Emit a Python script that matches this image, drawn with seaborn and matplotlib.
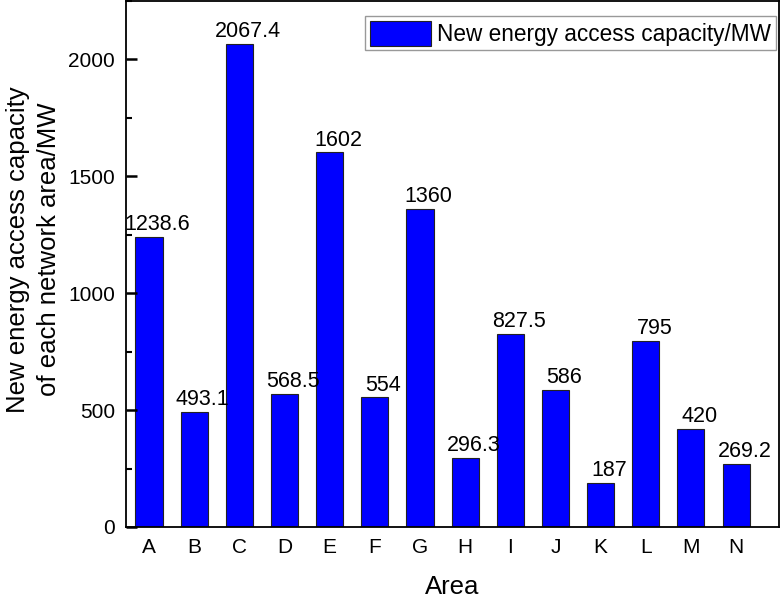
import matplotlib
matplotlib.use('Agg')
import matplotlib.pyplot as plt
import seaborn as sns
from matplotlib.ticker import MultipleLocator

# data
areas = ['A', 'B', 'C', 'D', 'E', 'F', 'G', 'H', 'I', 'J', 'K', 'L', 'M', 'N']
capacity = [1238.6, 493.1, 2067.4, 568.5, 1602, 554, 1360, 296.3, 827.5, 586, 187, 795, 420, 269.2]
value_labels = ['1238.6', '493.1', '2067.4', '568.5', '1602', '554', '1360',
                '296.3', '827.5', '586', '187', '795', '420', '269.2']
legend_label = 'New energy access capacity/MW'
x_title = 'Area'
y_title = 'New energy access capacity\nof each network area/MW'

plt.rcParams['font.family'] = ['Liberation Sans', 'DejaVu Sans']

fig = plt.figure(figsize=(7.82, 5.98), dpi=100)
ax = fig.add_axes([126 / 782, 71 / 598, 653 / 782, 526 / 598])

sns.barplot(x=areas, y=capacity, color='#0000ff', saturation=1, width=0.6,
            edgecolor='#222222', linewidth=0.8, ax=ax)

# value labels sit a little right of each bar centre, as in the original
for i, (v, txt) in enumerate(zip(capacity, value_labels)):
    ax.annotate(txt, xy=(i, v), xytext=(6.1, 5), textcoords='offset points',
                ha='center', va='baseline', fontsize=15.5, color='black')

ax.set_xlim(-0.51, 13.95)
ax.set_ylim(0, 2250)
ax.yaxis.set_major_locator(MultipleLocator(500))
ax.yaxis.set_minor_locator(MultipleLocator(250))

ax.tick_params(axis='y', which='major', direction='in', length=8, width=1.8,
               labelsize=15, pad=8, left=True, right=False, color='#000000')
ax.tick_params(axis='y', which='minor', direction='in', length=4, width=1.5,
               left=True, right=False, color='#000000')
ax.tick_params(axis='x', which='both', length=0, labelsize=15, pad=8)

for sp in ax.spines.values():
    sp.set_color('black')
    sp.set_linewidth(1.3)

ax.set_xlabel(x_title, fontsize=18.5)
ax.set_ylabel(y_title, fontsize=18.5, linespacing=1.4)
ax.xaxis.set_label_coords(0.5, -0.0913)
ax.yaxis.set_label_coords(-0.0988, 0.528)

leg = ax.legend([ax.containers[0]], [legend_label], loc='upper right',
                bbox_to_anchor=(0.9954, 0.9715), borderaxespad=0, fontsize=16.3,
                handlelength=2.7, handleheight=1.33, handletextpad=0.3,
                borderpad=0.2, fancybox=False, framealpha=1, edgecolor='#999999')
leg.get_frame().set_linewidth(1.0)

fig.savefig('out.png', dpi=100)
plt.close(fig)
